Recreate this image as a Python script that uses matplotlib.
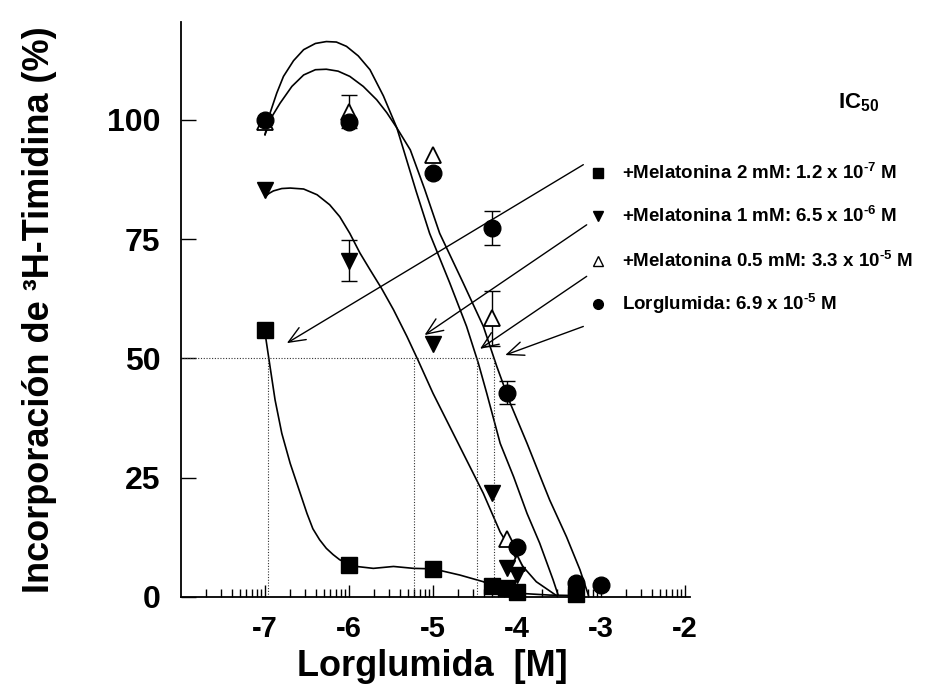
import numpy as np
import matplotlib
matplotlib.use('Agg')
import matplotlib.pyplot as plt
from matplotlib.ticker import FixedLocator

plt.rcParams['font.family'] = ['Liberation Sans', 'DejaVu Sans']
plt.rcParams['font.weight'] = 'bold'
plt.rcParams['mathtext.fontset'] = 'custom'
plt.rcParams['mathtext.rm'] = 'Liberation Sans:bold'
plt.rcParams['mathtext.it'] = 'Liberation Sans:bold'
plt.rcParams['mathtext.bf'] = 'Liberation Sans:bold'
plt.rcParams['mathtext.default'] = 'rm'

# ---------------- data (log10 molar concentration, % incorporation) -------------
# +Melatonina 2 mM (filled squares)
x_sq = [-7.0, -6.0, -5.0, -4.3, -4.12, -4.0, -3.3]
y_sq = [56.0, 6.7, 5.9, 2.3, 1.9, 1.0, 0.6]
# +Melatonina 1 mM (filled down triangles)
x_tri = [-7.0, -6.0, -5.0, -4.3, -4.12, -4.0]
y_tri = [85.3, 70.5, 53.1, 21.7, 6.1, 4.6]
e_tri = [0, 4.3, 0, 0, 0, 0]
# +Melatonina 0.5 mM (open up triangles)
x_otri = [-7.0, -6.0, -5.0, -4.3, -4.12, -4.0]
y_otri = [99.5, 101.7, 92.7, 58.4, 12.2, 7.1]
e_otri = [0, 3.5, 0, 5.8, 0, 0]
# Lorglumida (filled circles)
x_circ = [-7.0, -6.0, -5.0, -4.3, -4.12, -4.0, -3.3, -3.0]
y_circ = [100.0, 99.6, 88.9, 77.3, 42.8, 10.4, 2.9, 2.5]
e_circ = [0, 0, 0, 3.6, 2.4, 0, 0, 0]

# fitted curves
cx_sq = [-6.99, -6.94, -6.88, -6.80, -6.70, -6.58, -6.50, -6.43, -6.35, -6.27, -6.19, -6.11,
         -6.01, -5.91, -5.71, -5.47, -5.23, -5.00, -4.90, -4.68, -4.40, -4.29, -4.00,
         -3.61, -3.29]
cy_sq = [54.2, 48.3, 41.3, 34.3, 28.0, 21.7, 17.5, 14.3, 12.0, 10.2, 8.9, 7.8,
         7.0, 6.4, 6.0, 6.4, 6.0, 5.9, 5.5, 4.6, 3.2, 2.2, 0.8,
         0.4, 0.3]

cx_tri = [-7.0, -6.95, -6.90, -6.80, -6.70, -6.54, -6.38, -6.23, -6.11, -5.99, -5.87, -5.75,
          -5.61, -5.47, -5.31, -5.18, -5.00, -4.80, -4.60, -4.40, -4.20, -4.00, -3.77, -3.53]
cy_tri = [83.9, 84.6, 85.1, 85.6, 85.7, 85.5, 84.3, 82.2, 79.7, 76.2, 72.1, 68.6,
          64.6, 60.2, 54.6, 49.7, 42.7, 35.7, 28.7, 21.7, 13.6, 7.8, 3.2, 0.3]

cx_otri = [-7.0, -6.94, -6.86, -6.78, -6.66, -6.54, -6.40, -6.27, -6.15, -6.03, -5.89,
           -5.75, -5.59, -5.43, -5.35, -5.20, -5.04, -4.80, -4.60, -4.46, -4.36, -4.20,
           -4.04, -3.88, -3.73, -3.57, -3.51]
cy_otri = [96.9, 101.4, 105.6, 109.1, 112.4, 114.7, 116.0, 116.4, 116.3, 115.4, 113.4,
           110.5, 105.0, 98.3, 93.7, 85.0, 76.2, 65.8, 56.7, 49.0, 42.7, 32.2,
           25.2, 17.5, 11.3, 3.6, 0.4]

cx_circ = [-7.0, -6.92, -6.82, -6.68, -6.54, -6.40, -6.27, -6.13, -5.99, -5.83, -5.67,
           -5.55, -5.43, -5.27, -5.10, -4.92, -4.64, -4.40, -4.24, -4.08, -3.88, -3.69,
           -3.61, -3.41, -3.25, -3.15]
cy_circ = [96.9, 100.6, 103.5, 107.0, 109.4, 110.5, 110.6, 110.2, 109.1, 107.0, 104.2,
           101.5, 98.3, 93.7, 85.5, 76.2, 65.8, 56.7, 48.3, 40.6, 32.2, 23.8,
           20.3, 12.6, 5.7, 0.4]

# IC50 read-outs (log10 M) for the dotted drop lines
ic50_x = [-6.96, -5.23, -4.48, -4.27]

# legend labels and arrows (start near legend, end on curve)
labels = [r'+Melatonina 2 mM: 1.2 x 10$^{\text{-7}}$ M',
          r'+Melatonina 1 mM: 6.5 x 10$^{\text{-6}}$ M',
          r'+Melatonina 0.5 mM: 3.3 x 10$^{\text{-5}}$ M',
          r'Lorglumida: 6.9 x 10$^{\text{-5}}$ M']
arrow_start_x = [-3.21, -3.17, -3.17, -3.21]
arrow_start_y = [90.6, 78.0, 67.2, 56.7]
arrow_end_x = [-6.74, -5.10, -4.44, -4.14]
arrow_end_y = [53.2, 54.9, 52.0, 50.7]

xticks = [-7, -6, -5, -4, -3, -2]
xticklabels = ['-7', '-6', '-5', '-4', '-3', '-2']
yticks = [0, 25, 50, 75, 100]

# ---------------- figure ----------------
W, H = 951, 688
fig = plt.figure(figsize=(W / 100, H / 100), dpi=100)
ax = fig.add_axes([181 / W, 91 / H, 509 / W, 575 / H])
ax.set_xlim(-8, -1.94)
ax.set_ylim(0, 120.5)

for s in ['top', 'right']:
    ax.spines[s].set_visible(False)
for s in ['left', 'bottom']:
    ax.spines[s].set_linewidth(1.3)

lw = 1.2
for cx, cy in [(cx_sq, cy_sq), (cx_tri, cy_tri), (cx_otri, cy_otri), (cx_circ, cy_circ)]:
    ax.plot(cx, cy, color='black', lw=lw, solid_joinstyle='round')

# dotted IC50 guides
dot = dict(color='#333333', lw=0.8, linestyle=(0, (1, 1.5)))
ax.plot([-8, max(ic50_x)], [50, 50], **dot)
for xv in ic50_x:
    ax.plot([xv, xv], [0, 50], **dot)

# arrows
for sx, sy, ex, ey in zip(arrow_start_x, arrow_start_y, arrow_end_x, arrow_end_y):
    ax.annotate('', xy=(ex, ey), xytext=(sx, sy),
                arrowprops=dict(arrowstyle='->,head_length=0.6,head_width=0.25',
                                lw=1.0, color='black', mutation_scale=20,
                                shrinkA=0, shrinkB=0))

def errbars(x, y, e):
    xs = [a for a, b in zip(x, e) if b > 0]
    ys = [a for a, b in zip(y, e) if b > 0]
    es = [b for b in e if b > 0]
    ax.errorbar(xs, ys, yerr=es, fmt='none', ecolor='black', elinewidth=1.0,
                capsize=5.5, capthick=1.0, zorder=3)

errbars(x_otri, y_otri, e_otri)
errbars(x_tri, y_tri, e_tri)
errbars(x_circ, y_circ, e_circ)

ms = 12
ax.plot(x_otri, y_otri, linestyle='none', marker='^', ms=11, mfc='white', mec='black',
        mew=1.3, zorder=4, clip_on=False)
ax.plot(x_sq, y_sq, linestyle='none', marker='s', ms=ms, mfc='black', mec='black',
        zorder=5, clip_on=False)
ax.plot(x_tri, y_tri, linestyle='none', marker='v', ms=ms, mfc='black', mec='black',
        zorder=5, clip_on=False)
ax.plot(x_circ, y_circ, linestyle='none', marker='o', ms=ms, mfc='black', mec='black',
        zorder=6, clip_on=False)

# ticks
ax.xaxis.set_major_locator(FixedLocator(xticks))
ax.set_xticklabels(xticklabels)
minor = [d + np.log10(k) for d in range(-8, -2) for k in range(2, 10)]
ax.xaxis.set_minor_locator(FixedLocator(minor))
ax.tick_params(axis='x', which='major', direction='in', length=9, width=1.0,
               labelsize=21, pad=13)
ax.tick_params(axis='x', which='minor', direction='in', length=6, width=1.0)
ax.set_yticks(yticks)
ax.tick_params(axis='y', direction='in', length=11, width=1.0, labelsize=23, pad=15)
for lab in ax.get_xticklabels() + ax.get_yticklabels():
    lab.set_fontweight('bold')

# axis labels
fig.text(40 / W, 1 - 310 / H, 'Incorporación de ³H-Timidina (%)', rotation=90,
         ha='center', va='center', fontsize=26, fontweight='bold')
fig.text(432 / W, 1 - 667 / H, 'Lorglumida  [M]', ha='center', va='center',
         fontsize=26, fontweight='bold')

# legend block
rows_y = [173, 216, 261, 304]
mk = [dict(marker='s', mfc='black'), dict(marker='v', mfc='black'),
      dict(marker='^', mfc='white'), dict(marker='o', mfc='black')]
for yy, lab, m in zip(rows_y, labels, mk):
    fig.lines.append(plt.Line2D([598 / W], [1 - yy / H], transform=fig.transFigure,
                                marker=m['marker'], ms=7, mfc=m['mfc'], mec='black',
                                mew=1.0, linestyle='none'))
    fig.text(622 / W, 1 - yy / H, lab, ha='left', va='center', fontsize=13.5,
             fontweight='bold')

fig.text(838 / W, 1 - 103 / H, r'IC$_{50}$', ha='left', va='center', fontsize=16,
         fontweight='bold')

fig.savefig('out.png', dpi=100)
